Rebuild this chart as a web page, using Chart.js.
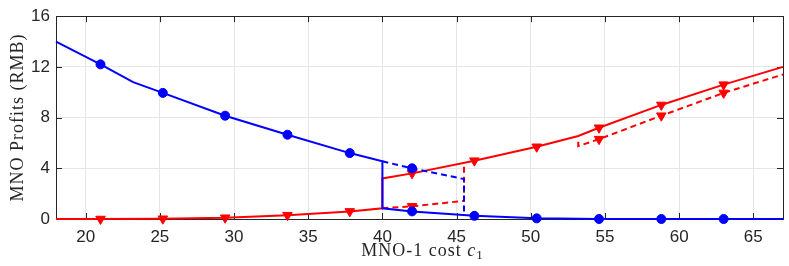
<!DOCTYPE html>
<html>
<head>
<meta charset="utf-8">
<script src="https://cdn.jsdelivr.net/npm/chart.js@4"></script>
<style>
  html, body { margin: 0; padding: 0; background: #fff; }
  #wrap { width: 789px; height: 266px; }
</style>
</head>
<body>
<div id="wrap"><canvas id="chart"></canvas></div>
<script>
// tick labels
const xTicks = [20, 25, 30, 35, 40, 45, 50, 55, 60, 65];
const yTicks = [0, 4, 8, 12, 16];

// MNO-2 (blue), solid
const blueSolidX = [18, 21, 23.2, 25.2, 29.4, 33.6, 37.8, 40, 40, 42, 46.2, 50.4, 54.6, 58.8, 63, 67];
const blueSolidY = [14, 12.2, 10.8, 9.95, 8.15, 6.65, 5.2, 4.55, 0.85, 0.6, 0.25, 0.05, 0, 0, 0, 0];
const blueSolidMarks = [21, 25.2, 29.4, 33.6, 37.8, 42, 46.2, 50.4, 54.6, 58.8, 63];
// MNO-2 (blue), dashed
const blueDashX = [40, 42, 45.5, 45.5];
const blueDashY = [4.55, 4.0, 3.15, 0.3];
const blueDashMarks = [42];

// MNO-1 (red), solid
const redSolidX = [18, 21, 25.2, 29.4, 33.6, 37.8, 40, 40, 42, 46.2, 50.4, 53.2, 54.6, 58.8, 63, 67];
const redSolidY = [0, 0, 0.02, 0.1, 0.3, 0.6, 0.85, 3.2, 3.6, 4.6, 5.7, 6.55, 7.2, 9.0, 10.6, 12.0];
const redSolidMarks = [21, 25.2, 29.4, 33.6, 37.8, 42, 46.2, 50.4, 54.6, 58.8, 63];
// MNO-1 (red), dashed
const redDashAX = [40, 42, 45.5, 45.5];
const redDashAY = [0.85, 1.0, 1.43, 4.4];
const redDashBX = [53.2, 53.2, 54.6, 58.8, 63, 67];
const redDashBY = [6.1, 5.75, 6.3, 8.15, 9.95, 11.4];
const redDashMarks = [42, 54.6, 58.8, 63];

const yTitle = 'MNO Profits (RMB)';
const xTitle = 'MNO-1 cost ';

const AXIS = '#262626';

function pts(xs, ys) {
    return xs.map((x, i) => ({ x: x, y: ys[i] }));
}

function serie(xs, ys, marks, color, dashed, style) {
    return {
        data: pts(xs, ys),
        borderColor: color,
        backgroundColor: color,
        borderWidth: 2,
        borderDash: dashed ? [6, 4] : [],
        pointStyle: style,
        pointRotation: style === 'triangle' ? 180 : 0,
        pointRadius: ctx => marks.includes(ctx.raw.x) ? (style === 'triangle' ? 5.5 : 4.5) : 0,
        pointBorderWidth: 1,
        pointHoverRadius: 0,
        tension: 0,
        clip: false
    };
}

// caja y marcas hacia dentro, como en MATLAB
const boxPlugin = {
    id: 'box',
    beforeDatasetsDraw(chart) {
        const { ctx, chartArea: a, scales } = chart;
        ctx.save();
        ctx.strokeStyle = AXIS;
        ctx.lineWidth = 1;
        ctx.beginPath();
        xTicks.forEach(v => {
            const px = Math.round(scales.x.getPixelForValue(v)) + 0.5;
            ctx.moveTo(px, a.bottom); ctx.lineTo(px, a.bottom - 6);
            ctx.moveTo(px, a.top); ctx.lineTo(px, a.top + 6);
        });
        yTicks.forEach(v => {
            const py = Math.round(scales.y.getPixelForValue(v)) + 0.5;
            ctx.moveTo(a.left, py); ctx.lineTo(a.left + 6, py);
            ctx.moveTo(a.right, py); ctx.lineTo(a.right - 6, py);
        });
        ctx.stroke();
        ctx.strokeRect(Math.round(a.left) + 0.5, Math.round(a.top) + 0.5,
            Math.round(a.right - a.left), Math.round(a.bottom - a.top));
        ctx.restore();
    },
    afterDraw(chart) {
        const { ctx, chartArea: a } = chart;
        const base = '18px "Liberation Serif"';
        const ital = 'italic 18px "Liberation Serif"';
        const sub = '13px "Liberation Serif"';
        ctx.save();
        ctx.fillStyle = AXIS;
        ctx.textBaseline = 'alphabetic';
        ctx.letterSpacing = '1px';

        // titulo eje y
        ctx.save();
        ctx.font = base;
        ctx.textAlign = 'center';
        ctx.translate(23, (a.top + a.bottom) / 2);
        ctx.rotate(-Math.PI / 2);
        ctx.fillText(yTitle, 0, 0);
        ctx.restore();

        // titulo eje x con c en cursiva y subindice
        ctx.textAlign = 'left';
        ctx.font = base; const w1 = ctx.measureText(xTitle).width;
        ctx.font = ital; const w2 = ctx.measureText('c').width;
        ctx.font = sub; const w3 = ctx.measureText('1').width;
        let x = (a.left + a.right) / 2 + 3 - (w1 + w2 + w3) / 2;
        const y = 256;
        ctx.font = base; ctx.fillText(xTitle, x, y); x += w1;
        ctx.font = ital; ctx.fillText('c', x, y); x += w2;
        ctx.font = sub; ctx.fillText('1', x, y + 3);
        ctx.restore();
    }
};

new Chart(document.getElementById('chart'), {
    type: 'line',
    data: {
        datasets: [
            serie(blueSolidX, blueSolidY, blueSolidMarks, '#0000ff', false, 'circle'),
            serie(blueDashX, blueDashY, blueDashMarks, '#0000ff', true, 'circle'),
            serie(redSolidX, redSolidY, redSolidMarks, '#ff0000', false, 'triangle'),
            serie(redDashAX, redDashAY, redDashMarks, '#ff0000', true, 'triangle'),
            serie(redDashBX, redDashBY, redDashMarks, '#ff0000', true, 'triangle')
        ]
    },
    options: {
        responsive: true,
        maintainAspectRatio: false,
        animation: false,
        layout: { padding: { top: 5, right: 6, left: 0, bottom: 0 } },
        plugins: { legend: { display: false }, tooltip: { enabled: false } },
        scales: {
            x: {
                type: 'linear',
                min: 18,
                max: 67,
                afterBuildTicks: s => { s.ticks = xTicks.map(v => ({ value: v })); },
                afterFit: s => { s.height = 47; },
                grid: { color: '#e6e6e6', drawTicks: false },
                border: { display: false },
                ticks: { color: AXIS, font: { family: 'Liberation Sans', size: 17 }, padding: 8, maxRotation: 0 }
            },
            y: {
                min: 0,
                max: 16,
                afterBuildTicks: s => { s.ticks = yTicks.map(v => ({ value: v })); },
                afterFit: s => { s.width = 56; },
                grid: { color: '#e6e6e6', drawTicks: false },
                border: { display: false },
                ticks: { color: AXIS, font: { family: 'Liberation Sans', size: 17 }, padding: 6 }
            }
        }
    },
    plugins: [boxPlugin]
});
</script>
</body>
</html>
